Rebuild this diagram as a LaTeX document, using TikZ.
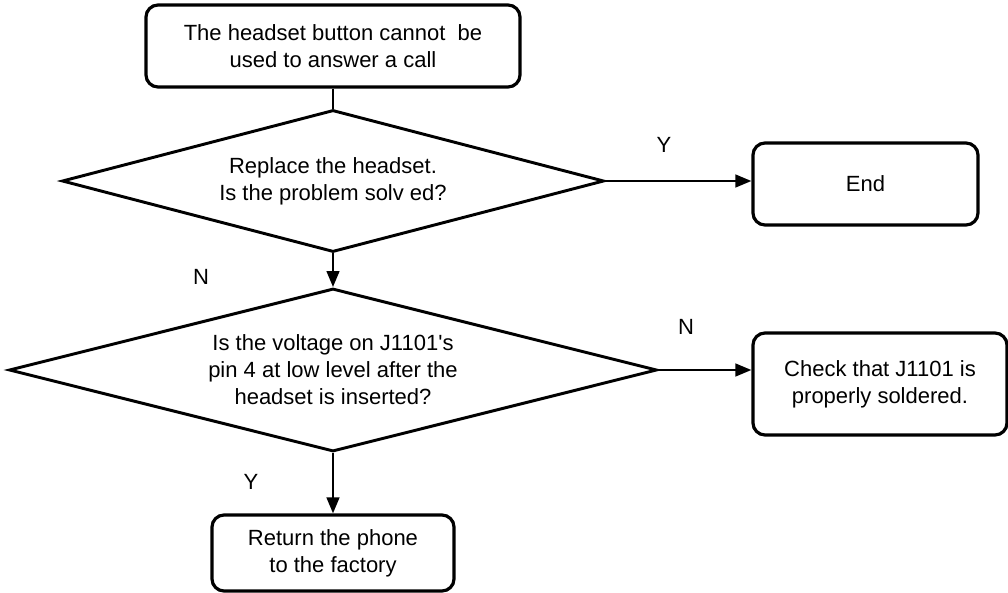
\documentclass[tikz,border=0pt]{standalone}
\usepackage{fontspec}
\setmainfont{Liberation Sans}
\usetikzlibrary{shapes.geometric,arrows.meta}
\begin{document}
\begin{tikzpicture}[x=0.75pt,y=-0.75pt,
  every node/.style={font=\fontsize{16.5pt}{20.25pt}\selectfont},
  procbox/.style={draw,line width=2.4pt,rounded corners=9pt,align=center,inner sep=0pt},
  decision/.style={draw,diamond,line width=2.2pt,inner sep=-40pt},
  txt/.style={align=center,inner sep=0pt},
  lbl/.style={inner sep=0pt},
  flow/.style={line width=1.8pt,-{Triangle[length=12pt,width=9.5pt]}},
  link/.style={line width=1.8pt}]
\clip (0,0) rectangle (1008,593);
\useasboundingbox (0,0) rectangle (1008,593);

% boxes
\node[procbox,minimum width=280.5pt,minimum height=61.5pt] (start) at (333,46)
  {The headset button cannot\ \ be\\used to answer a call};
\node[procbox,minimum width=168.75pt,minimum height=61.5pt] (end) at (865.5,184) {End};
\node[procbox,minimum width=190.5pt,minimum height=76.5pt] (check) at (880,384)
  {Check that J1101 is\\properly soldered.};
\node[procbox,minimum width=181.5pt,minimum height=57pt] (ret) at (333,553)
  {Return the phone\\to the factory};

% decisions
\node[decision,minimum width=406.5pt,minimum height=106.5pt] (d1) at (333,181) {};
\node[txt] at (d1.center) {Replace the headset.\\Is the problem solv ed?};
\node[decision,minimum width=486pt,minimum height=122.25pt] (d2) at (333,370) {};
\node[txt] at (d2.center) {Is the voltage on J1101\textquotesingle s\\pin 4 at low level after the\\headset is inserted?};

% connectors
\draw[link] (start.south) -- (d1.north);
\draw[flow] (d1.south) -- (d2.north);
\draw[flow] (d2.south) -- (ret.north);
\draw[flow] (d1.east) -- (d1.east -| end.west);
\draw[flow] (d2.east) -- (d2.east -| check.west);

% branch labels
\node[lbl] (y1) at (664,145) {Y};
\node[lbl] (n1) at (201,277) {N};
\node[lbl] (n2) at (686,327) {N};
\node[lbl] (y2) at (251,482) {Y};
\end{tikzpicture}
\end{document}
